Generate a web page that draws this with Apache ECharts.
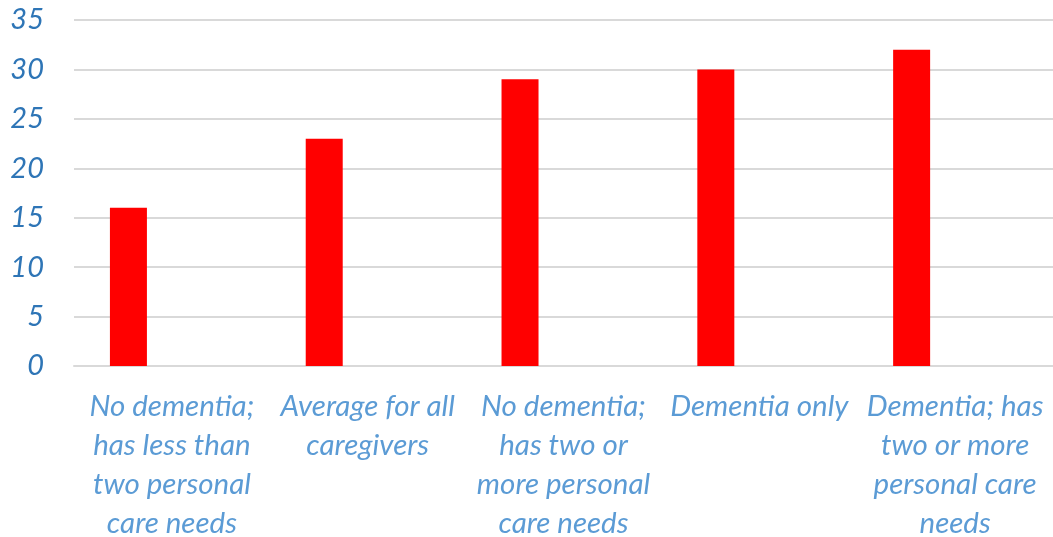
<!DOCTYPE html>
<html>
<head>
<meta charset="utf-8">
<script src="https://cdn.jsdelivr.net/npm/echarts@6/dist/echarts.min.js"></script>
<style>
  html, body { margin: 0; padding: 0; background: #fff; }
  #chart { width: 1053px; height: 537px; }
</style>
</head>
<body>
<div id="chart"></div>
<script>
var categories = [
  'No dementia;\nhas less than\ntwo personal\ncare needs',
  'Average for all\ncaregivers',
  'No dementia;\nhas two or\nmore personal\ncare needs',
  'Dementia only',
  'Dementia; has\ntwo or more\npersonal care\nneeds'
];
var values = [16, 23, 29, 30, 32];
// second (empty) series from the source sheet, keeps bars to the left of each slot
var emptySeries = [null, null, null, null, null];
var yTicks = { min: 0, max: 35, interval: 5 };

var option = {
  backgroundColor: '#fff',
  animation: false,
  grid: { left: 74, right: 0, top: 20, bottom: 171, containLabel: false, outerBoundsMode: 'none' },
  xAxis: {
    type: 'category',
    data: categories,
    axisLine: { show: true, lineStyle: { color: '#d9d9d9', width: 2 } },
    axisTick: { show: false },
    axisLabel: {
      interval: 0,
      margin: 21,
      color: '#5b9bd5',
      fontFamily: 'Lato',
      fontStyle: 'italic',
      fontSize: 29.5,
      lineHeight: 39,
      align: 'center'
    }
  },
  yAxis: {
    type: 'value',
    min: yTicks.min,
    max: yTicks.max,
    interval: yTicks.interval,
    axisLine: { show: false },
    axisTick: { show: false },
    splitLine: { lineStyle: { color: '#d9d9d9', width: 2 } },
    axisLabel: {
      margin: 30,
      color: '#2e75b6',
      fontFamily: 'Lato',
      fontStyle: 'italic',
      fontSize: 29
    }
  },
  series: [
    {
      type: 'bar',
      data: values,
      barWidth: 37,
      barGap: '135%',
      itemStyle: { color: '#ff0000' }
    },
    {
      type: 'bar',
      data: emptySeries,
      barWidth: 37,
      itemStyle: { color: '#ff0000' }
    }
  ]
};

var myChart = echarts.init(document.getElementById('chart'));
myChart.setOption(option);
</script>
</body>
</html>
